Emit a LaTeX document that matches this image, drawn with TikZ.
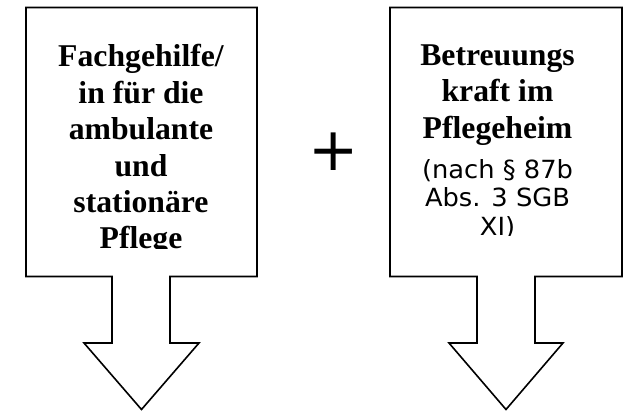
\documentclass[tikz,border=0pt]{standalone}
\usepackage{fontspec}
\setmainfont{Liberation Serif}
\newfontfamily\verd[FakeStretch=1.03]{DejaVu Sans}
\newfontfamily\plusfont{DejaVu Sans}
\tikzset{
  callout/.style={draw=black, line width=1.6pt, fill=white, line join=miter},
  boldline/.style={anchor=base, inner sep=0pt, font=\fontsize{31.7}{36.4}\selectfont\bfseries},
  sansline/.style={anchor=base, inner sep=0pt, font=\fontsize{25}{29}\selectfont\verd},
}
\begin{document}
\begin{tikzpicture}[x=1pt, y=-1pt]
\useasboundingbox (0,0) rectangle (629,411);
% left arrow callout
\draw[callout] (26,7.5) -- (257,7.5) -- (257,276.5) -- (170,276.5) -- (170,343) -- (199,343)
  -- (141.5,409.5) -- (84,343) -- (112,343) -- (112,276.5) -- (26,276.5) -- cycle;
% right arrow callout
\draw[callout] (390,7.5) -- (622,7.5) -- (622,276.5) -- (535,276.5) -- (535,343) -- (563,343)
  -- (506,409.5) -- (449,343) -- (477,343) -- (477,276.5) -- (390,276.5) -- cycle;
% left text
\begin{scope}
\clip (28,9) rectangle (255,248.3);
\node[boldline] (l1) at (141,67) {Fachgehilfe/};
\node[boldline] (l2) at (141,103.4) {in für die};
\node[boldline] (l3) at (141,139.8) {ambulante};
\node[boldline] (l4) at (141,176.2) {und};
\node[boldline] (l5) at (141,212.6) {stationäre};
\node[boldline] (l6) at (141,249) {Pflege};
\end{scope}
% right text
\begin{scope}
\clip (392,9) rectangle (620,236);
\node[boldline] (r1) at (497.5,65.7) {Betreuungs};
\node[boldline] (r2) at (497.5,102) {kraft im};
\node[boldline] (r3) at (497.5,138.3) {Pflegeheim};
\node[sansline] (r4) at (497.5,178.5) {(nach § 87b};
\node[sansline] (r5) at (497.5,207) {Abs. 3 SGB};
\node[sansline] (r6) at (497.5,235.5) {XI)};
\end{scope}
% plus sign
\node[inner sep=0pt, font=\fontsize{60}{62}\selectfont\plusfont] (plus) at (334,151.5) {+};
\end{tikzpicture}
\end{document}
